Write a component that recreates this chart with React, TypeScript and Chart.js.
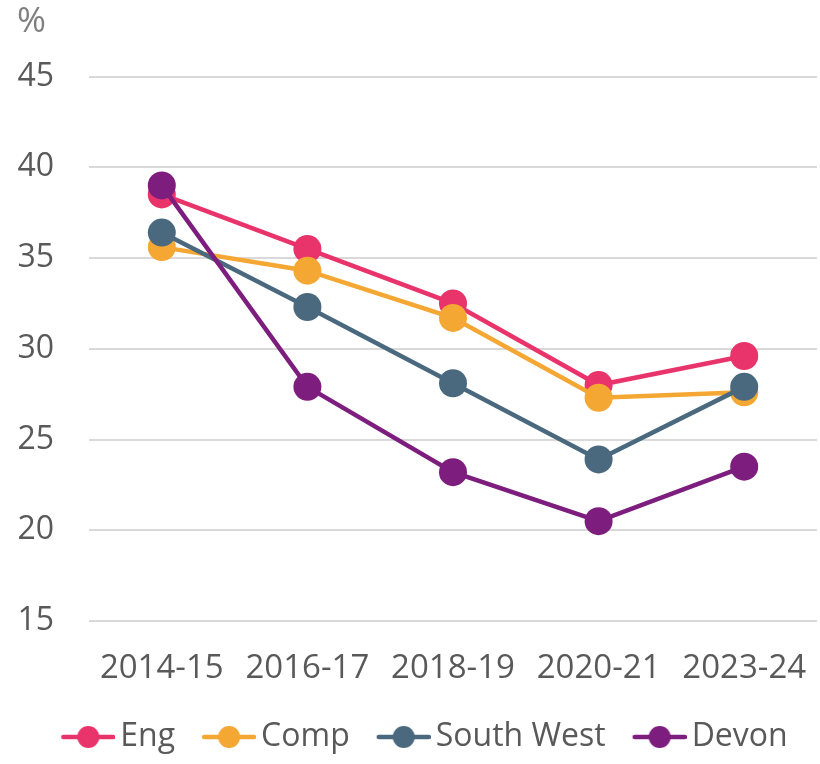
import React, { useEffect, useRef } from "react";
import { Chart, registerables } from "chart.js";

Chart.register(...registerables);

const categories = ["2014-15", "2016-17", "2018-19", "2020-21", "2023-24"];
const seriesNames = ["Eng", "Comp", "South West", "Devon"];
const engValues = [38.5, 35.5, 32.5, 28.0, 29.6];
const compValues = [35.6, 34.3, 31.7, 27.3, 27.6];
const southWestValues = [36.4, 32.3, 28.1, 23.9, 27.9];
const devonValues = [39.0, 27.9, 23.2, 20.5, 23.5];
const seriesColors = ["#E9336B", "#F5A733", "#4A697F", "#7D1E7E"];
const yMin = 15;
const yMax = 45;
const yStep = 5;
const unitLabel = "%";

const FONT = "'Open Sans', 'Noto Sans', sans-serif";
const TEXT = "#595959";

function makeLegendIcon(color: string): HTMLCanvasElement {
  const c = document.createElement("canvas");
  c.width = 80;
  c.height = 26;
  const ctx = c.getContext("2d")!;
  const off = 26;
  ctx.strokeStyle = color;
  ctx.lineWidth = 4.5;
  ctx.lineCap = "round";
  ctx.beginPath();
  ctx.moveTo(off + 2, 13);
  ctx.lineTo(off + 52, 13);
  ctx.stroke();
  ctx.fillStyle = color;
  ctx.beginPath();
  ctx.arc(off + 27, 13, 11, 0, Math.PI * 2);
  ctx.fill();
  return c;
}

export default function App() {
  const ref = useRef<HTMLCanvasElement | null>(null);

  useEffect(() => {
    if (!ref.current) return;
    const allValues = [engValues, compValues, southWestValues, devonValues];
    const icons = seriesColors.map((c) => makeLegendIcon(c));
    const chart = new Chart(ref.current, {
      type: "line",
      data: {
        labels: categories,
        datasets: seriesNames.map((name, i) => ({
          label: name,
          data: allValues[i],
          borderColor: seriesColors[i],
          backgroundColor: seriesColors[i],
          pointBackgroundColor: seriesColors[i],
          pointBorderWidth: 0,
          pointRadius: 14,
          pointHoverRadius: 14,
          borderWidth: 4.5,
          tension: 0,
          fill: false,
          order: seriesNames.length - i,
        })),
      },
      options: {
        animation: false,
        responsive: false,
        events: [],
        layout: { autoPadding: false, padding: { left: 17, right: 3, top: 0, bottom: 1 } },
        plugins: {
          title: {
            display: true,
            text: unitLabel,
            align: "start",
            color: "#7F7F7F",
            font: { family: FONT, size: 35, weight: "normal", lineHeight: 1.1 },
            padding: { top: 3, bottom: 35 },
          },
          legend: {
            position: "bottom",
            labels: {
              usePointStyle: true,
              pointStyleWidth: 58,
              boxHeight: 26,
              padding: 12,
              color: TEXT,
              font: { family: FONT, size: 32 },
              generateLabels: (ch: any) =>
                ch.data.datasets.map((ds: any, i: number) => ({
                  text: ds.label,
                  fillStyle: seriesColors[i],
                  strokeStyle: seriesColors[i],
                  lineWidth: 0,
                  pointStyle: icons[i],
                  hidden: false,
                  datasetIndex: i,
                  fontColor: TEXT,
                })),
            },
          },
          tooltip: { enabled: false },
        },
        scales: {
          x: {
            offset: true,
            grid: { display: false, drawTicks: false, offset: true },
            border: { display: false },
            ticks: {
              color: TEXT,
              font: { family: FONT, size: 33 },
              padding: 28,
              maxRotation: 0,
              autoSkip: false,
            },
            afterFit: (scale: any) => {
              scale.height = 88;
              scale.paddingLeft = 0;
              scale.paddingRight = 0;
            },
          },
          y: {
            min: yMin,
            max: yMax,
            ticks: {
              stepSize: yStep,
              color: TEXT,
              font: { family: FONT, size: 32 },
              padding: 35,
            },
            grid: { color: "#D9D9D9", lineWidth: 2, drawTicks: false },
            border: { display: false },
            afterFit: (scale: any) => {
              scale.width = 72;
            },
          },
        },
      },
    });
    return () => chart.destroy();
  }, []);

  return (
    <div style={{ position: "absolute", left: 0, top: 0, width: 820, height: 764, background: "#fff" }}>
      <canvas ref={ref} width={820} height={764} style={{ display: "block" }} />
    </div>
  );
}
